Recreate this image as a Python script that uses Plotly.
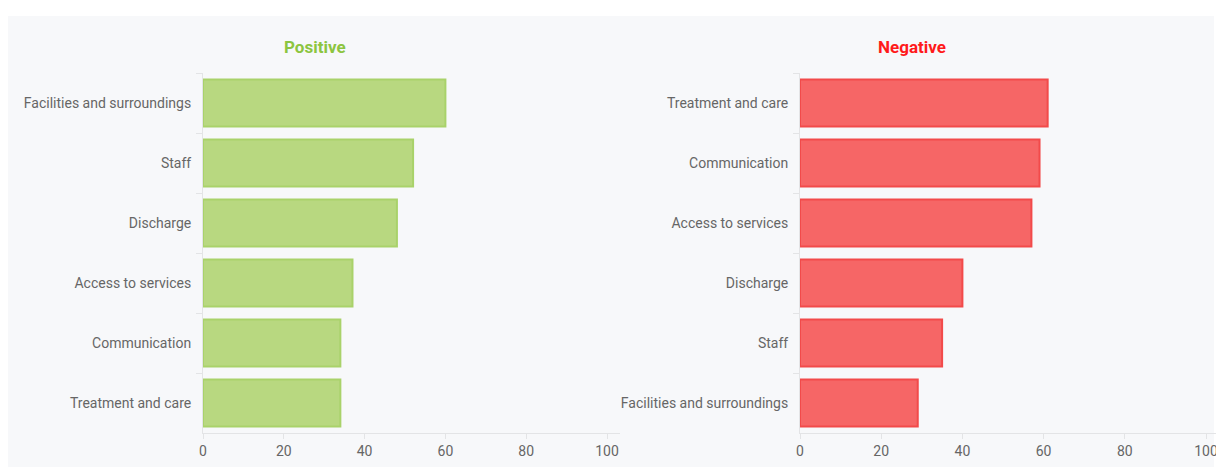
import plotly.graph_objects as go

OFF = 8  # page body margin in the browser
W, H = 1224 - OFF, 467 - OFF

pos_categories = ["Facilities and surroundings", "Staff", "Discharge",
                  "Access to services", "Communication", "Treatment and care"]
pos_values = [60, 52, 48, 37, 34, 34]

neg_categories = ["Treatment and care", "Communication", "Access to services",
                  "Discharge", "Staff", "Facilities and surroundings"]
neg_values = [61, 59, 57, 40, 35, 29]

tick_vals = [0, 20, 40, 60, 80, 100]
tick_text = ["0", "20", "40", "60", "80", "100"]

fig = go.Figure()

fig.add_trace(go.Bar(
    x=pos_values, y=pos_categories, orientation="h",
    xaxis="x", yaxis="y", width=0.78,
    marker=dict(color="#b8d880", line=dict(color="#a9d26a", width=2)),
    hoverinfo="x+y", showlegend=False,
))
fig.add_trace(go.Bar(
    x=neg_values, y=neg_categories, orientation="h",
    xaxis="x2", yaxis="y2", width=0.78,
    marker=dict(color="#f66666", line=dict(color="#f24a4a", width=2)),
    hoverinfo="x+y", showlegend=False,
))

font_family = "Roboto, Arial, sans-serif"
axis_line = "#e3e4e6"
label_col = "#666666"

def px_x(p):
    return (p - OFF) / W

def px_y(p):
    return 1 - (p - OFF) / H

common_x = dict(
    tickvals=tick_vals, ticktext=tick_text, showgrid=False, zeroline=False,
    showline=True, linecolor=axis_line, linewidth=1,
    ticks="outside", ticklen=5, tickcolor=axis_line,
    tickfont=dict(family=font_family, size=14, color=label_col),
    ticklabeloverflow="allow",
    automargin=False, fixedrange=True,
)
common_y = dict(
    type="category", showgrid=False, zeroline=False,
    showline=True, linecolor=axis_line, linewidth=1,
    ticks="outside", ticklen=6, tickcolor=axis_line, tickson="boundaries",
    tickfont=dict(family=font_family, size=14, color=label_col),
    ticklabelstandoff=8,
    automargin=False, fixedrange=True, range=[5.5, -0.5],
    domain=[px_y(433), px_y(73)],
)

fig.update_layout(
    width=W, height=H,
    margin=dict(l=0, r=0, t=0, b=0),
    paper_bgcolor="white", plot_bgcolor="rgba(0,0,0,0)",
    bargap=0.2,
    xaxis=dict(common_x, domain=[px_x(203), px_x(620)], range=[0, (620 - 203) / 4.04], anchor="y"),
    yaxis=dict(common_y, anchor="x"),
    xaxis2=dict(common_x, domain=[px_x(800), px_x(1216)], range=[0, (1216 - 800) / 4.06], anchor="y2"),
    yaxis2=dict(common_y, anchor="x2"),
    shapes=[dict(type="rect", xref="paper", yref="paper",
                 x0=0, x1=px_x(1214), y0=0, y1=px_y(16),
                 fillcolor="#f7f8fa", line=dict(width=0), layer="below")],
    annotations=[
        dict(text="<b>Positive</b>", x=px_x(315), y=px_y(47), xref="paper", yref="paper",
             showarrow=False, font=dict(family=font_family, size=17, color="#8cc540"),
             xanchor="center", yanchor="middle"),
        dict(text="<b>Negative</b>", x=px_x(912), y=px_y(47), xref="paper", yref="paper",
             showarrow=False, font=dict(family=font_family, size=17, color="#ff1a1a"),
             xanchor="center", yanchor="middle"),
    ],
)

fig.write_html("out.html")
